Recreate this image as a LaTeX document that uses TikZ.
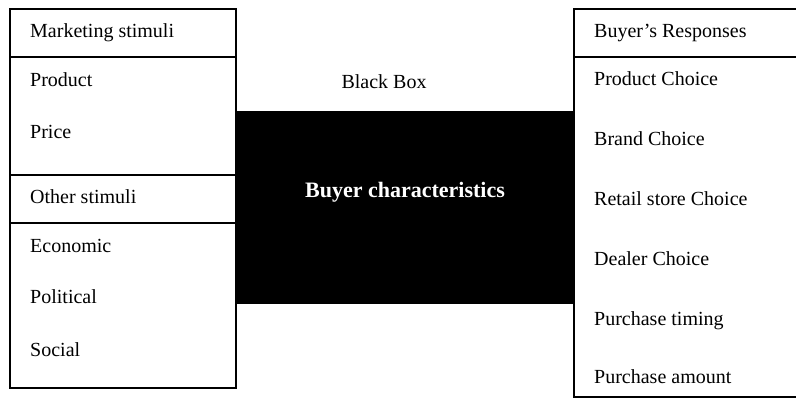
\documentclass[tikz,border=0pt]{standalone}
\usepackage{fontspec}
\setmainfont{Liberation Serif}
\begin{document}
\begin{tikzpicture}[x=1pt,y=-1pt,
  frame/.style={draw=black,line width=1.8pt},
  item/.style={anchor=base west,inner sep=0pt,font=\fontsize{20}{24}\selectfont},
  title/.style={anchor=base,inner sep=0pt,font=\fontsize{20}{24}\selectfont}]
\useasboundingbox (0,0) rectangle (796,398);

% black box in the middle
\fill[black] (237,111) rectangle (574,304);

% stimuli column
\draw[frame] (10,9) rectangle (236,57);
\draw[frame] (10,57) rectangle (236,175);
\draw[frame] (10,175) rectangle (236,223);
\draw[frame] (10,223) rectangle (236,388);

% responses column
\draw[frame] (574,9) rectangle (800,57);
\draw[frame] (574,57) rectangle (800,397);

% stimuli texts
\node[item] (mkt) at (30,38) {Marketing stimuli};
\node[item] (prod) at (30,87) {Product};
\node[item] (price) at (30,139) {Price};
\node[item] (other) at (30,204) {Other stimuli};
\node[item] (econ) at (30,253) {Economic};
\node[item] (pol) at (30,304) {Political};
\node[item] (soc) at (30,356) {Social};

% black box texts
\node[title] (bb) at (384,89) {Black Box};
\node[anchor=base,inner sep=0pt,text=white,font=\fontsize{22}{26}\selectfont\bfseries] (bc) at (405,198) {Buyer characteristics};

% response texts
\node[item] (resp) at (594,38) {Buyer’s Responses};
\node[item] (pc) at (594,86) {Product Choice};
\node[item] (brc) at (594,146) {Brand Choice};
\node[item] (rsc) at (594,206) {Retail store Choice};
\node[item] (dc) at (594,266) {Dealer Choice};
\node[item] (pt) at (594,326) {Purchase timing};
\node[item] (pa) at (594,384) {Purchase amount};
\end{tikzpicture}
\end{document}
